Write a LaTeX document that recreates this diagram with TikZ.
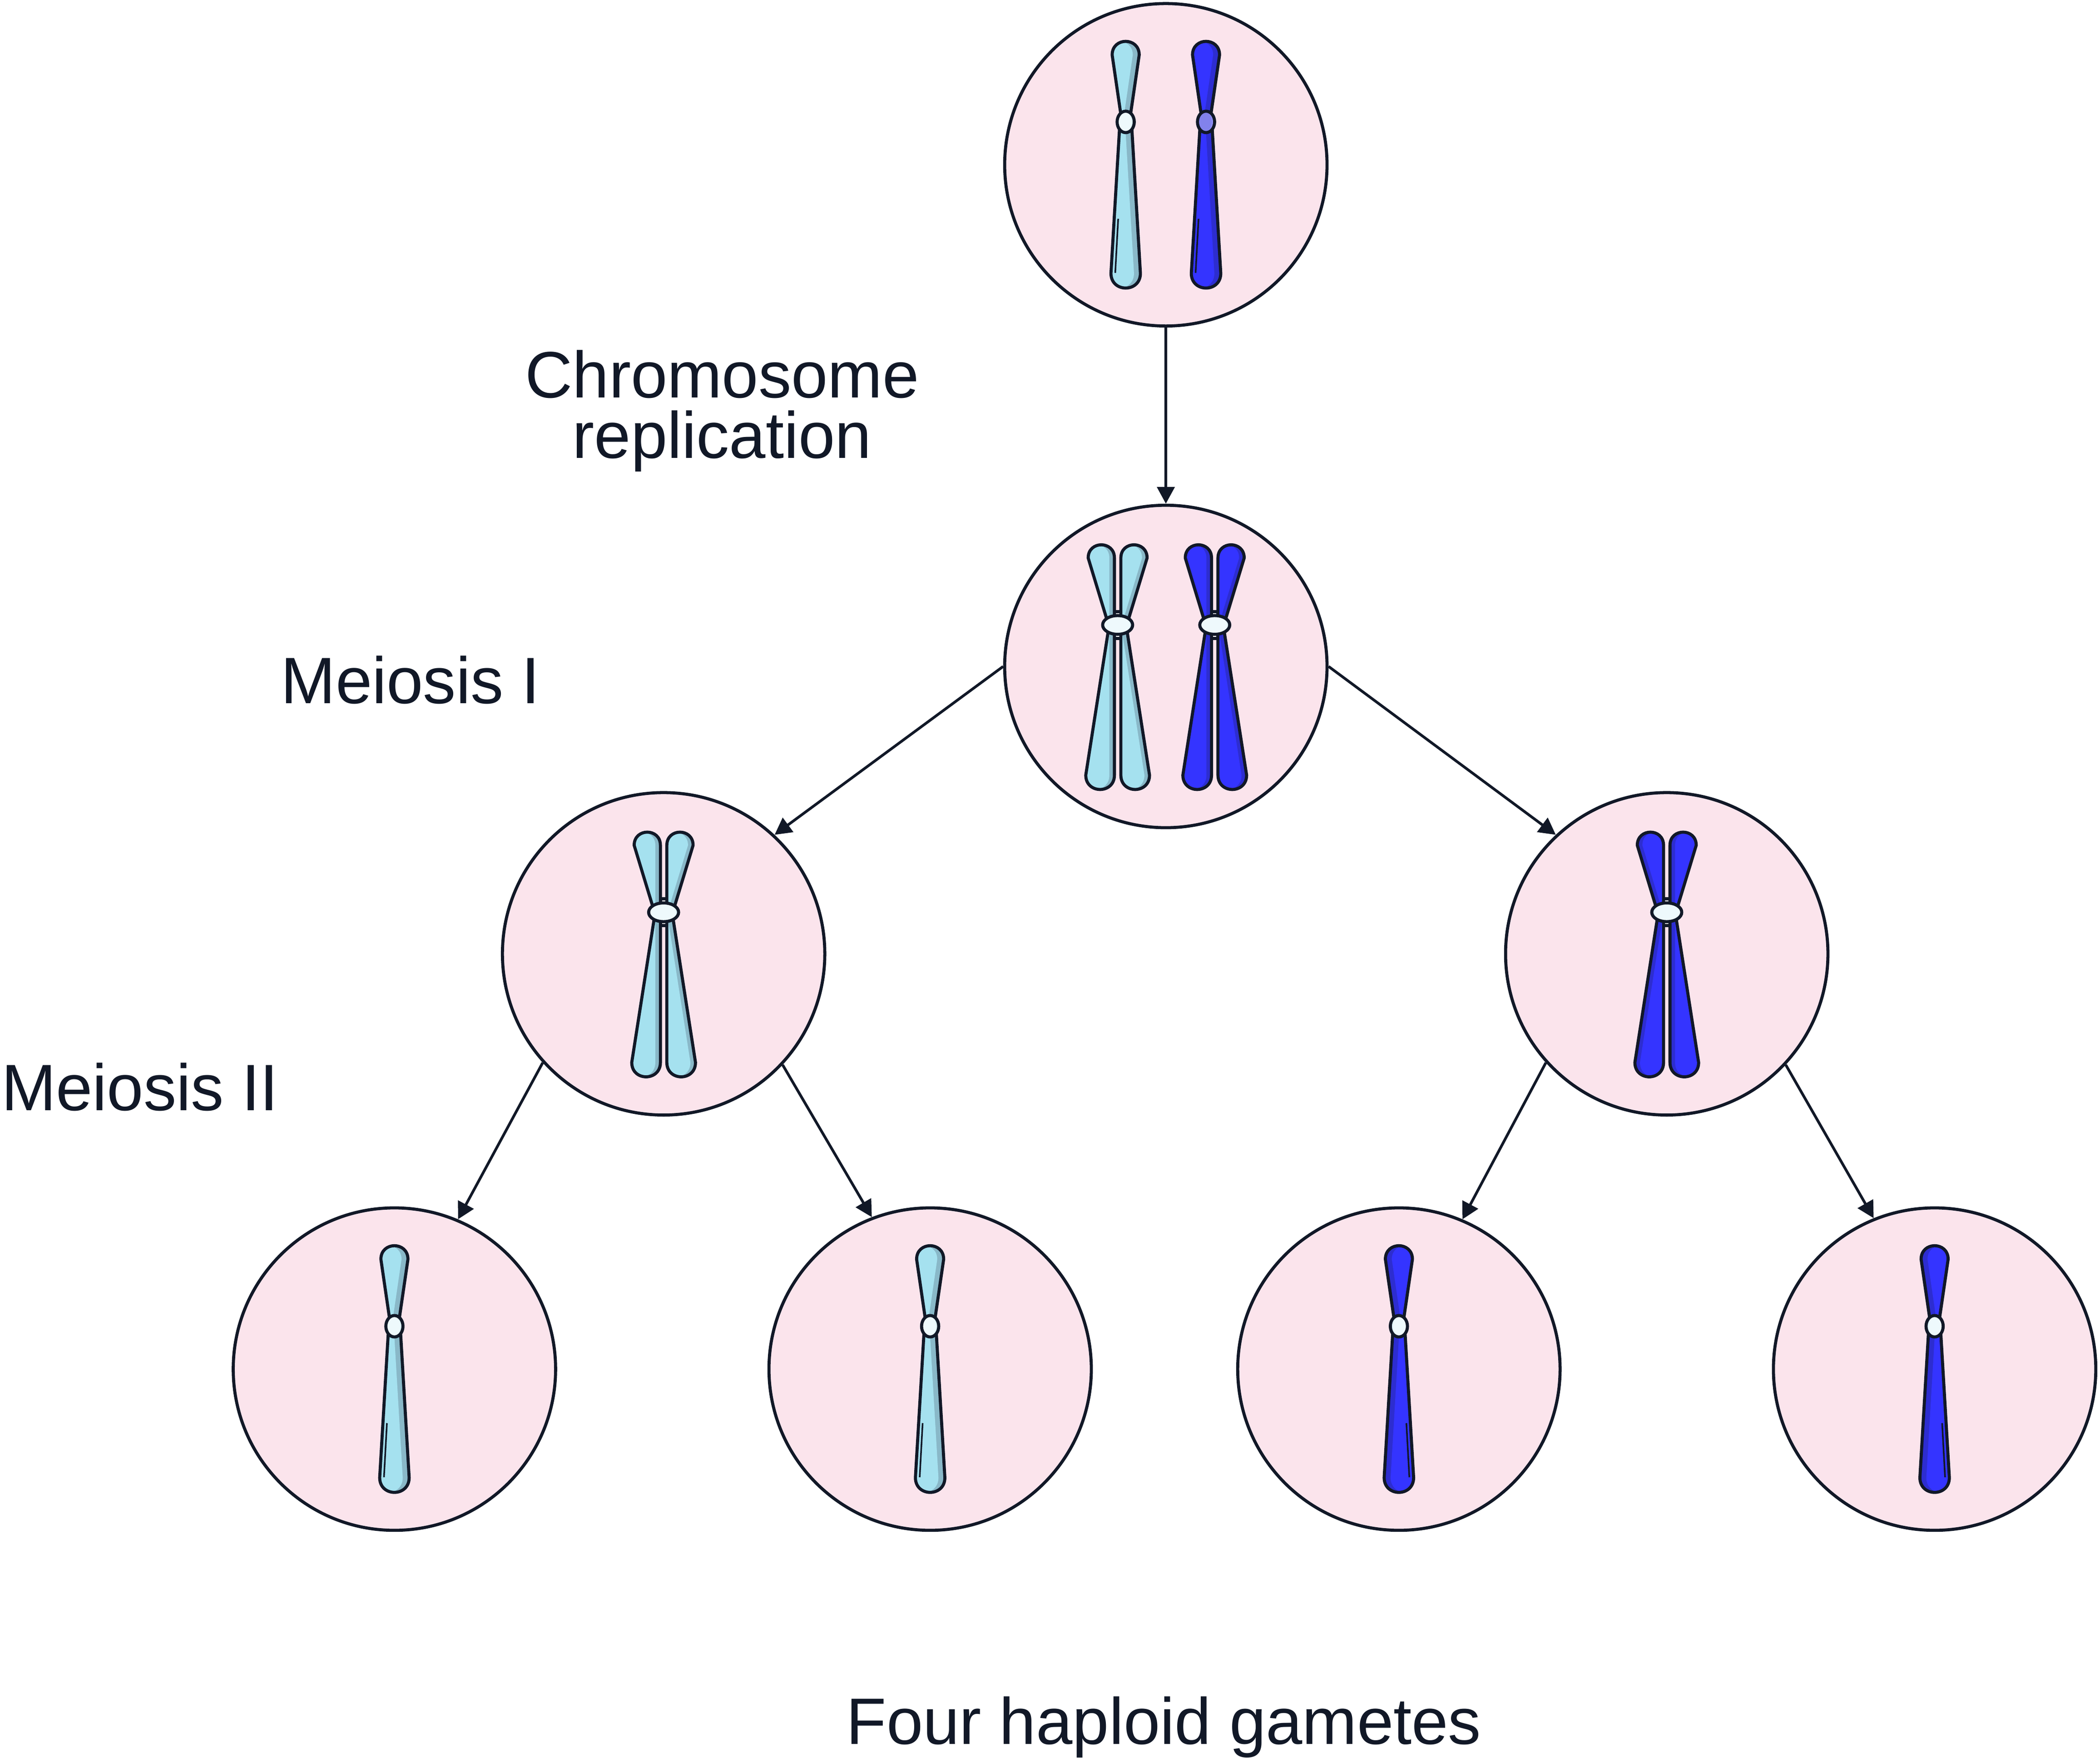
\documentclass[tikz,border=0pt]{standalone}
\usepackage{fontspec}
\setmainfont{Liberation Sans}
\usetikzlibrary{arrows.meta}
\definecolor{ink}{HTML}{111827}
\definecolor{cellpink}{HTML}{FBE4EC}
\definecolor{lb}{HTML}{A5E1EF}
\definecolor{lbs}{HTML}{89B8C8}
\definecolor{db}{HTML}{3434FF}
\definecolor{dbs}{HTML}{2D2DD0}
\definecolor{cen}{HTML}{EEF9FC}
\definecolor{cens}{HTML}{DCF1F7}
\definecolor{pur}{HTML}{9595FF}
\definecolor{purs}{HTML}{8282EC}
% single chromosome arms (local coords, y down)
\def\sU{(-10.1,-82) .. controls (-10.1,-95.5) and (10.1,-95.5) .. (10.1,-82) -- (2.8,-32) -- (-2.8,-32) -- cycle}
\def\sL{(-4.3,-32) -- (4.3,-32) -- (11,81) .. controls (11,95.7) and (-11,95.7) .. (-11,81) -- cycle}
% replicated chromosome arms
\def\pUL{(-22,-81) .. controls (-22,-94.1) and (-2.4,-94.1) .. (-2.4,-81) -- (-2.4,-31) -- (-6.8,-31) -- cycle}
\def\pUR{(2.4,-81) .. controls (2.4,-94.1) and (22,-94.1) .. (22,-81) -- (6.8,-31) -- (2.4,-31) -- cycle}
\def\pLL{(-6.3,-31) -- (-2.4,-31) -- (-2.4,81.1) .. controls (-2.4,95.4) and (-23.8,95.4) .. (-23.8,81.1) -- cycle}
\def\pLR{(2.4,-31) -- (6.3,-31) -- (23.8,81.1) .. controls (23.8,95.4) and (2.4,95.4) .. (2.4,81.1) -- cycle}
\newcommand\armpiece[4]{%
  \begin{scope}
    \clip #1;
    \fill[#3] #1;
    \fill[#2, xshift=#4] #1;
  \end{scope}
  \draw[outl] #1;}
\newcommand\centro[5]{%
  \begin{scope}
    \clip #1 ellipse [x radius=#2, y radius=#3];
    \fill[#5] #1 ellipse [x radius=#2, y radius=#3];
    \fill[#4, xshift=-2pt] #1 ellipse [x radius=#2, y radius=#3];
  \end{scope}
  \draw[outl] #1 ellipse [x radius=#2, y radius=#3];}
\newcommand\singlechr[7]{%
  \begin{scope}[shift={(#1,#2)}, xscale=#3]
    \armpiece{\sU}{#4}{#5}{-4.8pt}
    \armpiece{\sL}{#4}{#5}{-4.8pt}
    \draw[ink, line width=1.2pt] (-5.6,40.3) -- (-7.8,80.7);
    \centro{(0,-32)}{6.4pt}{8pt}{#6}{#7}
  \end{scope}}
\newcommand\pairchr[5]{%
  \begin{scope}[shift={(#1,#2)}, xscale=#3]
    \filldraw[fill=white, draw=ink, line width=2.3pt] (-2.4,-41) rectangle (2.4,-21);
    \armpiece{\pUL}{#4}{#5}{-3.8pt}
    \armpiece{\pUR}{#4}{#5}{-3.8pt}
    \armpiece{\pLL}{#4}{#5}{-3.8pt}
    \armpiece{\pLR}{#4}{#5}{-3.8pt}
    \centro{(0,-31)}{11.2pt}{7pt}{cen}{cens}
  \end{scope}}
\begin{document}
\begin{tikzpicture}[x=1pt,y=-1pt,
  cell/.style={circle, draw=ink, fill=cellpink, line width=2.3pt, minimum size=240.7pt, inner sep=0pt},
  arr/.style={draw=ink, line width=2pt, -{Triangle[length=12.5pt,width=13pt]}},
  lbl/.style={text=ink, font=\fontsize{49}{45}\selectfont, inner sep=0pt, anchor=base, align=center},
  outl/.style={draw=ink, line width=2.3pt, line join=round}]
\useasboundingbox (0,0) rectangle (1568,1312);
% cells
\node[cell] (c0) at (870.5,123) {};
\node[cell] (c1) at (870.5,497.5) {};
\node[cell] (c2) at (495.5,712) {};
\node[cell] (c3) at (1244.5,712) {};
\node[cell] (g1) at (294.5,1022) {};
\node[cell] (g2) at (694.5,1022) {};
\node[cell] (g3) at (1044.5,1022) {};
\node[cell] (g4) at (1444.5,1022) {};
% connectors
\draw[arr] (c0.south) -- (c1.north);
\draw[arr] (c1.180) -- (c2.47);
\draw[arr] (c1.0) -- (c3.133);
\draw[arr] (c2.222) -- (g1.67.5);
\draw[arr] (c2.317.5) -- (g2.111.5);
\draw[arr] (c3.222.5) -- (g3.67.5);
\draw[arr] (c3.317.5) -- (g4.112);
% chromosomes
\singlechr{840.5}{123}{1}{lb}{lbs}{cen}{cens}
\singlechr{900.5}{123}{1}{db}{dbs}{purs}{pur}
\pairchr{834.5}{497.5}{1}{lb}{lbs}
\pairchr{907}{497.5}{1}{db}{dbs}
\pairchr{495.5}{712}{1}{lb}{lbs}
\pairchr{1244.5}{712}{-1}{db}{dbs}
\singlechr{294.5}{1022}{1}{lb}{lbs}{cen}{cens}
\singlechr{694.5}{1022}{1}{lb}{lbs}{cen}{cens}
\singlechr{1044.5}{1022}{-1}{db}{dbs}{cen}{cens}
\singlechr{1444.5}{1022}{-1}{db}{dbs}{cen}{cens}
% labels
\node[lbl] (trep) at (539.2,342) {Chromosome\\replication};
\node[lbl] (tm1) at (306.5,525) {Meiosis I};
\node[lbl] (tm2) at (104.5,829) {Meiosis II};
\node[lbl] (tgam) at (869,1302) {Four haploid gametes};
\end{tikzpicture}
\end{document}
